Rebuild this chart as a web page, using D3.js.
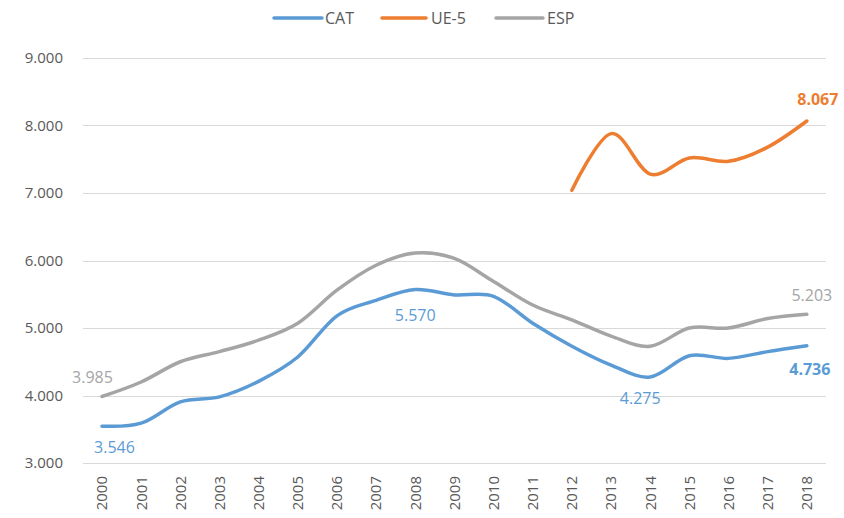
<!DOCTYPE html>
<html>
<head>
<meta charset="utf-8">
<script src="https://cdn.jsdelivr.net/npm/d3@7"></script>
<style>
  html, body { margin: 0; padding: 0; background: #fff; }
  svg { display: block; font-family: "Open Sans", "Lato", sans-serif; }
</style>
</head>
<body>
<svg id="chart" width="844" height="518"></svg>
<script>
const years = ["2000","2001","2002","2003","2004","2005","2006","2007","2008","2009","2010","2011","2012","2013","2014","2015","2016","2017","2018"];
const catValues = [3546, 3590, 3905, 3980, 4210, 4570, 5180, 5410, 5570, 5490, 5470, 5070, 4730, 4450, 4275, 4590, 4550, 4650, 4736];
const ue5Values = [null, null, null, null, null, null, null, null, null, null, null, null, 7040, 7880, 7280, 7520, 7470, 7680, 8067];
const espValues = [3985, 4200, 4500, 4650, 4820, 5070, 5560, 5930, 6110, 6030, 5690, 5340, 5120, 4880, 4730, 5000, 5000, 5140, 5203];
const yTicks = [3000, 4000, 5000, 6000, 7000, 8000, 9000];
const seriesNames = ["CAT", "UE-5", "ESP"];

const colors = { "CAT": "#5B9BD5", "UE-5": "#ED7D31", "ESP": "#A5A5A5" };
const textColor = "#595959";
const fmt = v => d3.format(",.0f")(v).replace(/,/g, ".");
const fmt3 = v => (v / 1000).toFixed(3);

const svg = d3.select("#chart");
const x = d3.scalePoint().domain(years).range([82.4, 826.4]).padding(0.5);
const y = d3.scaleLinear().domain([3000, 9000]).range([463, 58]);

// gridlines
svg.append("g").selectAll("line").data(yTicks).join("line")
  .attr("x1", 83).attr("x2", 826)
  .attr("y1", d => Math.round(y(d)) + 0.5).attr("y2", d => Math.round(y(d)) + 0.5)
  .attr("stroke", "#d9d9d9").attr("stroke-width", 1);

// y labels
svg.append("g").selectAll("text").data(yTicks).join("text")
  .attr("x", 63).attr("y", d => y(d))
  .attr("dy", "0.36em")
  .attr("text-anchor", "end")
  .attr("font-size", 15)
  .attr("fill", textColor)
  .text(d => fmt(d));

// x labels
svg.append("g").selectAll("text").data(years).join("text")
  .attr("transform", d => `translate(${x(d)},476) rotate(-90)`)
  .attr("dy", "0.36em")
  .attr("text-anchor", "end")
  .attr("font-size", 15)
  .attr("fill", textColor)
  .text(d => d);

const series = [
  { name: "CAT", values: catValues },
  { name: "UE-5", values: ue5Values },
  { name: "ESP", values: espValues }
];

const line = d3.line()
  .defined(d => d.v != null)
  .x(d => x(d.year))
  .y(d => y(d.v))
  .curve(d3.curveCardinal.tension(0));

// draw ESP, then UE-5, then CAT? Keep order matching Excel: CAT first then UE-5 then ESP on top
svg.append("g").selectAll("path").data(series).join("path")
  .attr("d", s => line(years.map((yr, i) => ({ year: yr, v: s.values[i] }))))
  .attr("fill", "none")
  .attr("stroke", s => colors[s.name])
  .attr("stroke-width", 3.5)
  .attr("stroke-linecap", "round")
  .attr("stroke-linejoin", "round");

// data labels
const labels = [
  { s: "ESP", vals: espValues, i: 0, dx: -9.5, dy: -14, bold: false },
  { s: "CAT", vals: catValues, i: 0, dx: 12.5, dy: 27, bold: false },
  { s: "CAT", vals: catValues, i: 8, dx: 0, dy: 31, bold: false },
  { s: "CAT", vals: catValues, i: 14, dx: -10, dy: 27, bold: false },
  { s: "CAT", vals: catValues, i: 18, dx: 3, dy: 29, bold: true },
  { s: "ESP", vals: espValues, i: 18, dx: 5, dy: -13, bold: false },
  { s: "UE-5", vals: ue5Values, i: 18, dx: 11, dy: -16, bold: true }
];
svg.append("g").selectAll("text").data(labels).join("text")
  .attr("x", d => x(years[d.i]) + d.dx)
  .attr("y", d => y(d.vals[d.i]) + d.dy)
  .attr("text-anchor", "middle")
  .attr("font-size", 16)
  .attr("font-weight", d => d.bold ? 700 : 400)
  .attr("fill", d => colors[d.s])
  .text(d => fmt3(d.vals[d.i]));

// legend
const legendItems = [
  { name: "CAT", x1: 274, x2: 322, tx: 325 },
  { name: "UE-5", x1: 382, x2: 426, tx: 431 },
  { name: "ESP", x1: 496, x2: 543, tx: 547 }
];
const lg = svg.append("g");
lg.selectAll("line").data(legendItems).join("line")
  .attr("x1", d => d.x1).attr("x2", d => d.x2)
  .attr("y1", 18).attr("y2", 18)
  .attr("stroke", d => colors[d.name])
  .attr("stroke-width", 3.5)
  .attr("stroke-linecap", "round");
lg.selectAll("text").data(legendItems).join("text")
  .attr("x", d => d.tx).attr("y", 18)
  .attr("dy", "0.36em")
  .attr("font-size", 16)
  .attr("fill", textColor)
  .text(d => d.name);
</script>
</body>
</html>
